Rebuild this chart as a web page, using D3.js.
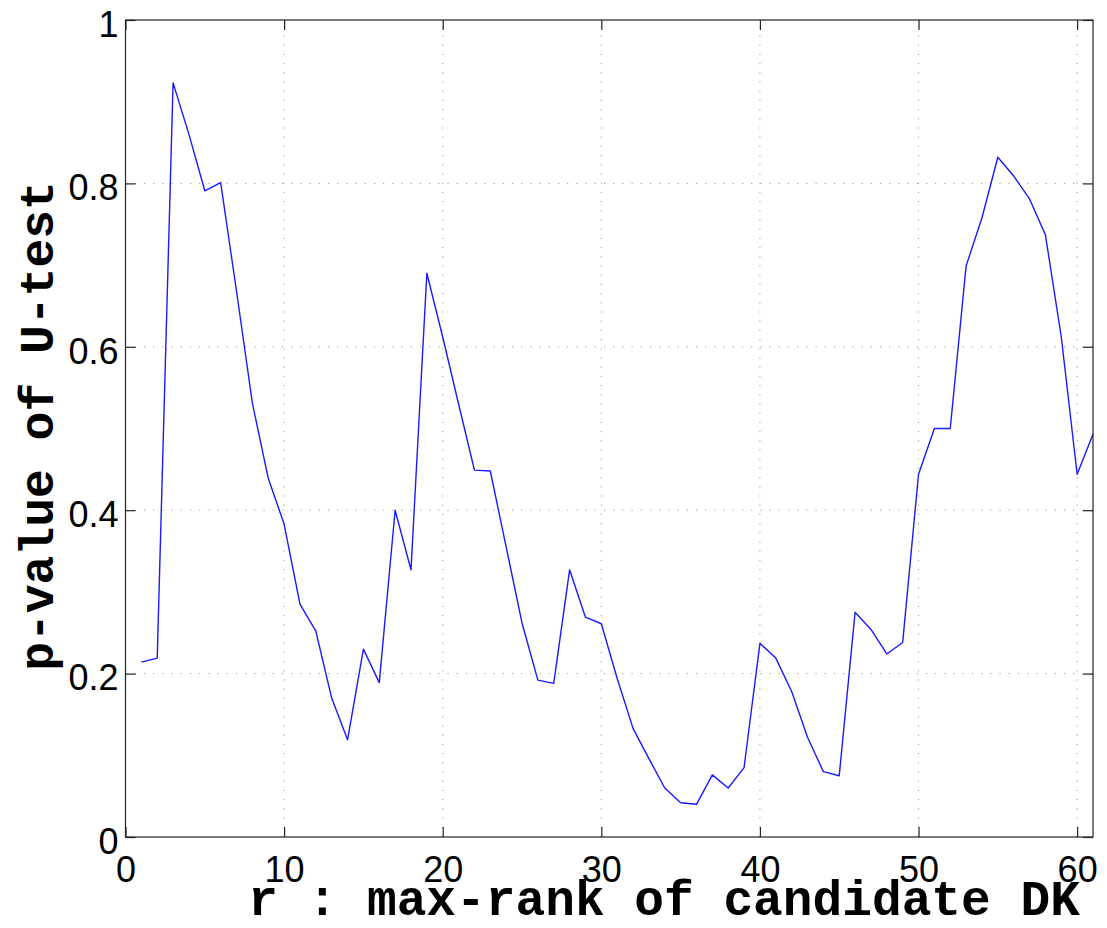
<!DOCTYPE html>
<html>
<head>
<meta charset="utf-8">
<script src="https://cdn.jsdelivr.net/npm/d3@7"></script>
<style>
  html, body { margin: 0; padding: 0; background: #fff; }
  svg { display: block; }
</style>
</head>
<body>
<svg id="chart" width="1107" height="928"></svg>
<script>
// ---- data ----
const ranks = d3.range(1, 62);
const pValues = [
  0.214, 0.219, 0.923, 0.860, 0.791, 0.801, 0.668, 0.531, 0.439, 0.383,
  0.285, 0.252, 0.170, 0.119, 0.230, 0.189, 0.400, 0.327, 0.690, 0.612,
  0.530, 0.449, 0.448, 0.355, 0.262, 0.192, 0.188, 0.327, 0.269, 0.261,
  0.194, 0.133, 0.096, 0.060, 0.042, 0.040, 0.076, 0.060, 0.085, 0.237,
  0.219, 0.178, 0.122, 0.080, 0.075, 0.275, 0.254, 0.224, 0.238, 0.444,
  0.500, 0.500, 0.699, 0.758, 0.832, 0.809, 0.781, 0.737, 0.612, 0.444,
  0.493
];
const xTicks = [0, 10, 20, 30, 40, 50, 60];
const yTicks = [0, 0.2, 0.4, 0.6, 0.8, 1];
const yTickLabels = ["0", "0.2", "0.4", "0.6", "0.8", "1"];
const xLabel = "r : max-rank of candidate DK";
const yLabel = "p-value of U-test";

// ---- layout ----
const svg = d3.select("#chart");
const L = 125.5, R = 1093, T = 20, B = 837;
const x = d3.scaleLinear().domain([0, 61]).range([L, R]);
const y = d3.scaleLinear().domain([0, 1]).range([B, T]);

// grid
const grid = svg.append("g").attr("stroke", "#9a9a9a").attr("stroke-width", 1)
  .attr("stroke-dasharray", "1.2,8");
xTicks.filter(t => t > 0).forEach(t => {
  grid.append("line").attr("x1", x(t)).attr("x2", x(t)).attr("y1", B).attr("y2", T);
});
yTicks.filter(t => t > 0 && t < 1).forEach(t => {
  grid.append("line").attr("y1", y(t)).attr("y2", y(t)).attr("x1", L).attr("x2", R);
});

// line
const line = d3.line().x((d, i) => x(ranks[i])).y(d => y(d));
svg.append("path").datum(pValues)
  .attr("d", line).attr("fill", "none")
  .attr("stroke", "#1a1aff").attr("stroke-width", 1.4)
  .attr("stroke-linejoin", "round");

// axes (box with inner ticks on all sides)
const tl = 10;
const axB = d3.axisBottom(x).tickValues(xTicks).tickSizeInner(-tl).tickSizeOuter(0).tickFormat(d3.format("d"));
const axT = d3.axisTop(x).tickValues(xTicks).tickSizeInner(-tl).tickSizeOuter(0).tickFormat("");
const axL = d3.axisLeft(y).tickValues(yTicks).tickSizeInner(-tl).tickSizeOuter(0).tickFormat((d, i) => yTickLabels[i]);
const axR = d3.axisRight(y).tickValues(yTicks).tickSizeInner(-tl).tickSizeOuter(0).tickFormat("");

function styleAxis(g) {
  g.select(".domain").remove();
  g.selectAll(".tick line").attr("stroke", "#222").attr("stroke-width", 1.2);
  g.selectAll("text").attr("fill", "#000")
    .style("font-family", "'Liberation Sans', Arial, Helvetica, sans-serif")
    .style("font-size", "36px");
}
svg.append("g").attr("transform", `translate(0,${B})`).call(axB).call(styleAxis)
  .selectAll("text").attr("dy", null).attr("y", 45);
svg.append("g").attr("transform", `translate(0,${T})`).call(axT).call(styleAxis);
svg.append("g").attr("transform", `translate(${L},0)`).call(axL).call(styleAxis)
  .selectAll("text").attr("x", -7).attr("dy", "0.45em");
svg.append("g").attr("transform", `translate(${R},0)`).call(axR).call(styleAxis);

// box
svg.append("rect").attr("x", L).attr("y", T).attr("width", R - L).attr("height", B - T)
  .attr("fill", "none").attr("stroke", "#222").attr("stroke-width", 1.2);

// labels
svg.append("text").text(xLabel)
  .attr("x", 664).attr("y", 915).attr("text-anchor", "middle")
  .style("font-family", "'Liberation Mono', 'Courier New', monospace")
  .style("font-weight", "bold").style("font-size", "49.5px");
svg.append("text").text(yLabel)
  .attr("transform", "translate(53,426) rotate(-90)").attr("text-anchor", "middle")
  .style("font-family", "'Liberation Mono', 'Courier New', monospace")
  .style("font-weight", "bold").style("font-size", "48px");
</script>
</body>
</html>
